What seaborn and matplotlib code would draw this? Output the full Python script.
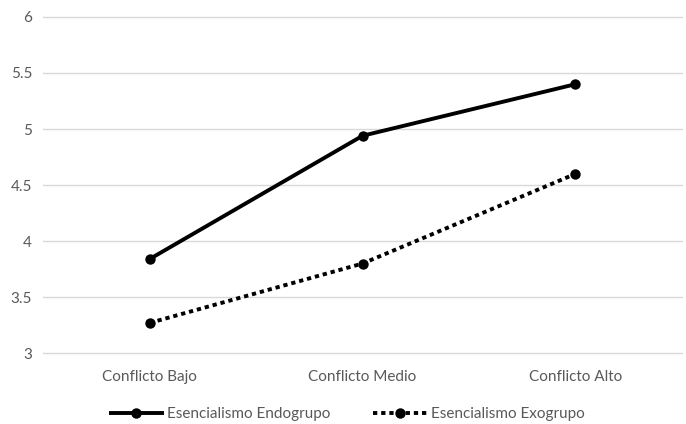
import matplotlib
matplotlib.use("Agg")
import matplotlib.pyplot as plt
import seaborn as sns
import pandas as pd

categories = ["Conflicto Bajo", "Conflicto Medio", "Conflicto Alto"]
endogrupo = [3.84, 4.94, 5.40]
exogrupo = [3.27, 3.80, 4.60]
series_names = ["Esencialismo Endogrupo", "Esencialismo Exogrupo"]
yticks = [3, 3.5, 4, 4.5, 5, 5.5, 6]

sns.set_theme(style="white")
plt.rcParams['font.family'] = ['Lato', 'DejaVu Sans']

df = pd.DataFrame({
    "x": list(range(3)) * 2,
    "y": endogrupo + exogrupo,
    "serie": [series_names[0]] * 3 + [series_names[1]] * 3,
})

fig = plt.figure(figsize=(6.86, 4.24), dpi=100)
ax = fig.add_axes([0.063, 0.167, 0.931, 0.793])

sns.lineplot(data=df[df.serie == series_names[0]], x="x", y="y", ax=ax,
             color="black", lw=2.8, marker="o", markersize=7.5,
             markeredgewidth=0, label=series_names[0], solid_capstyle="butt")
sns.lineplot(data=df[df.serie == series_names[1]], x="x", y="y", ax=ax,
             color="black", lw=2.8, marker="o", markersize=7.5,
             markeredgewidth=0, label=series_names[1])
ax.lines[1].set_dashes([1.1, 1.0])
ax.lines[1].set_dash_capstyle("butt")

ax.set_xlim(-0.5, 2.5)
ax.set_ylim(3, 6)
ax.set_yticks(yticks)
ax.set_yticklabels([f"{t:g}" for t in yticks])
ax.set_xticks(range(3))
ax.set_xticklabels(categories)
ax.set_xlabel("")
ax.set_ylabel("")
ax.yaxis.grid(True, color="#d9d9d9", lw=1)
for gl in ax.get_ygridlines():
    gl.set_clip_on(False)
ax.set_axisbelow(True)
for s in ax.spines.values():
    s.set_visible(False)
ax.tick_params(axis="both", length=0, labelsize=11, colors="#595959")
ax.tick_params(axis="x", pad=12)
ax.tick_params(axis="y", pad=8)

leg = ax.legend(loc="upper center", bbox_to_anchor=(0.475, -0.12), ncol=2,
                frameon=False, fontsize=11, handlelength=3.6,
                handletextpad=0.2, columnspacing=2.8)
for t in leg.get_texts():
    t.set_color("#595959")
for h in leg.get_lines():
    h.set_linewidth(2.8)

fig.savefig("out.png", dpi=100)
